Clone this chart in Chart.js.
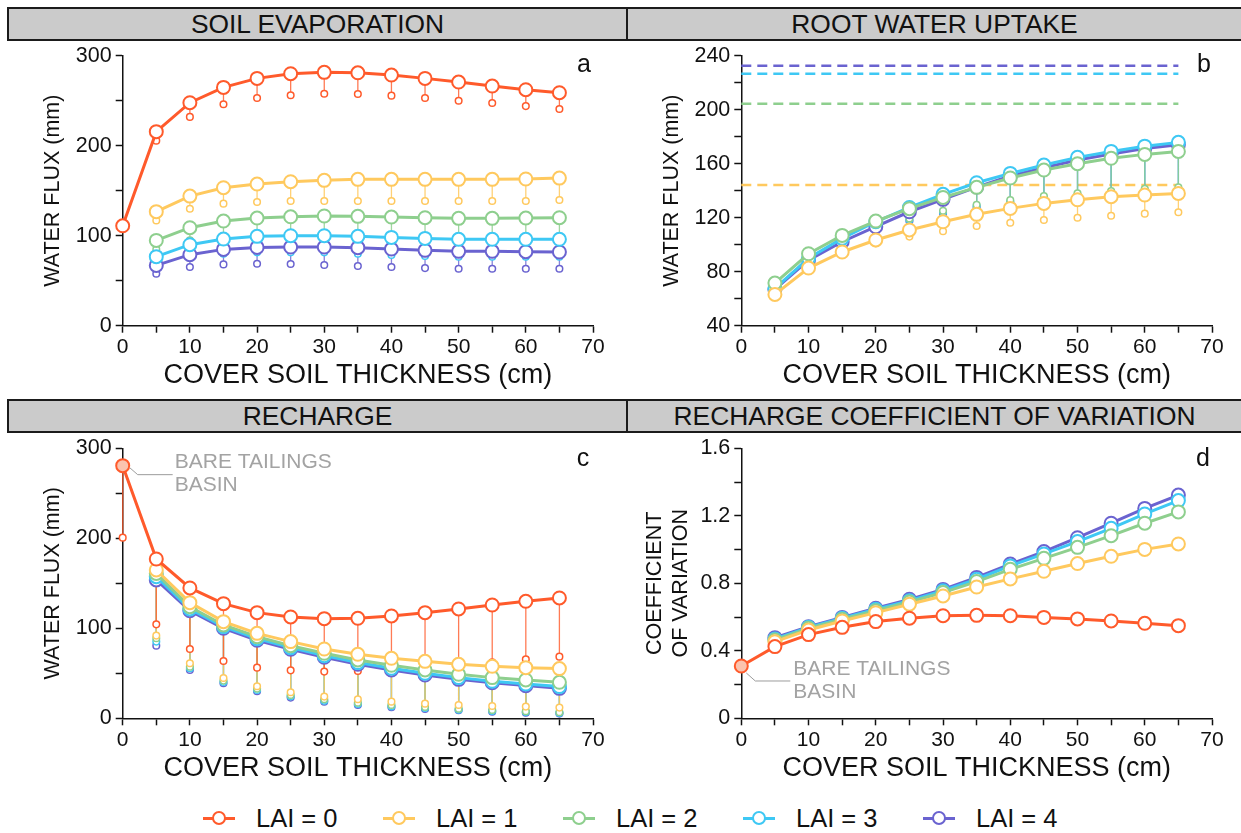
<!DOCTYPE html>
<html><head><meta charset="utf-8">
<script src="https://cdn.jsdelivr.net/npm/chart.js@4.4.1/dist/chart.umd.min.js"></script>
<style>
html,body{margin:0;padding:0;background:#fff}
#page{position:relative;width:1241px;height:833px;overflow:hidden;font-family:"Liberation Sans",Arial,Helvetica,sans-serif;color:#111}
.band{position:absolute;left:7px;width:1250px;height:34px;box-sizing:border-box;border:2px solid #1b1b1b;background:#cbcbcb}
.divider{position:absolute;left:626px;width:2px;height:34px;background:#1b1b1b}
.htitle{position:absolute;height:34px;line-height:34px;text-align:center;font-size:26.4px;color:#111;white-space:nowrap}
canvas{position:absolute}
.letter{position:absolute;font-size:25px;line-height:25px;width:30px;text-align:center;color:#111}
.leg{position:absolute;top:803px;height:30px;width:170px}
.legline{position:absolute;top:13.5px;left:0;width:32px;height:3px}
.legdot{position:absolute;top:8px;left:9px;width:10px;height:10px;border-radius:50%;background:#fff;border:2px solid}
.legtext{position:absolute;left:53px;top:0;font-size:25.5px;line-height:30px;white-space:nowrap;color:#111}
</style></head><body>
<div id="page">
 <div class="band" style="top:7px"></div><div class="divider" style="top:7px"></div>
 <div class="htitle" style="top:7px;left:9px;width:617px">SOIL EVAPORATION</div>
 <div class="htitle" style="top:7px;left:628px;width:613px">ROOT WATER UPTAKE</div>
 <div class="band" style="top:399px"></div><div class="divider" style="top:399px"></div>
 <div class="htitle" style="top:399px;left:9px;width:617px">RECHARGE</div>
 <div class="htitle" style="top:399px;left:628px;width:613px">RECHARGE COEFFICIENT OF VARIATION</div>
 <canvas id="ca" width="620" height="356" style="left:0;top:38px"></canvas>
 <canvas id="cb" width="621" height="356" style="left:620px;top:38px"></canvas>
 <canvas id="cc" width="620" height="356" style="left:0;top:431px"></canvas>
 <canvas id="cd" width="621" height="356" style="left:620px;top:431px"></canvas>
 <div class="letter" style="left:569px;top:51px">a</div>
 <div class="letter" style="left:1189px;top:51px">b</div>
 <div class="letter" style="left:568px;top:445px">c</div>
 <div class="letter" style="left:1188px;top:445px">d</div>
 <div id="legend"></div>
</div>
<script>
// ---------------- DATA ----------------
const thicknessAll = [0, 5, 10, 15, 20, 25, 30, 35, 40, 45, 50, 55, 60, 65];
const thicknessVeg = [5, 10, 15, 20, 25, 30, 35, 40, 45, 50, 55, 60, 65];
const laiLabels = ['LAI = 0', 'LAI = 1', 'LAI = 2', 'LAI = 3', 'LAI = 4'];
const bareLabel = ['BARE TAILINGS', 'BASIN'];

// (a) soil evaporation (mm): mean and lower value
const evap0    = [111, 215.6, 247.8, 264.8, 274.8, 280, 281.5, 281, 278.5, 274.8, 270.7, 266.3, 262.2, 258.9];
const evap0Low = [null, 205.6, 232, 246, 253, 256, 257.8, 257.4, 255.6, 253, 250, 247.4, 244, 240.7];
const evap1    = [null, 126.7, 144, 153.3, 157.4, 160, 161.5, 162.6, 162.6, 162.6, 162.6, 162.6, 163, 164];
const evap1Low = [null, 117, 130, 135.6, 137.4, 138.5, 138.5, 138.5, 138.5, 138.5, 138.5, 138.5, 138.5, 139.6];
const evap2    = [null, 94.8, 108.9, 116.3, 119.6, 121, 121.9, 121.5, 120.7, 120, 119.3, 119.3, 119.6, 120];
const evap2Low = [null, 85, 94.8, 98.9, 100.4, 100.4, 100.4, 100.4, 99.5, 99, 98.5, 98.5, 98.2, 98];
const evap3    = [null, 76.7, 90, 96.3, 99.3, 100, 100, 99.3, 98.1, 97, 96, 96, 96, 96];
const evap3Low = [null, 67, 76, 80, 81.5, 81.5, 81.5, 80, 78.5, 77.4, 76.7, 76.7, 76.7, 76.7];
const evap4    = [null, 67, 78.9, 84.8, 87, 87.4, 87.4, 86.7, 85.2, 83.7, 82.6, 82.6, 82.2, 81.9];
const evap4Low = [null, 57.8, 65.2, 68.1, 68.9, 68.5, 67.4, 66.3, 65.2, 64, 63.3, 63.3, 63.3, 63.3];

// (b) root water uptake (mm), thicknessVeg
const uptake1    = [63.2, 82.7, 94.6, 103.5, 110.9, 117, 122.5, 126.9, 130.6, 133.3, 135.6, 136.8, 138];
const uptake1Low = [62.2, 81.7, 93.3, 101, 106, 110, 113.8, 116.3, 118.3, 120, 121.5, 123, 124];
const uptake2    = [71.6, 93.3, 106.9, 117.5, 126.7, 135, 142.5, 149.4, 155.3, 160, 164, 166.9, 169.1];
const uptake2Low = [71, 91.6, 104, 112.6, 119.5, 125.2, 129.6, 133, 136, 138, 139.8, 141.5, 142.5];
const uptake3    = [67.7, 89.9, 104.7, 117, 127.6, 137.3, 145.9, 152.8, 159, 164.7, 169.1, 173, 175.8];
const uptake3Low = [67, 88, 102, 111, 118.5, 124, 128.6, 132, 135, 137, 139, 140.6, 141.5];
const uptake4    = [66.9, 88.6, 102.2, 113.3, 124.4, 133.6, 142.7, 150.9, 157, 162.7, 167.2, 171.3, 174];
const uptake4Low = [66, 87, 100.5, 110, 117.5, 123, 127.6, 131, 134, 136, 138, 139.7, 140.6];
const potentialUptake = [null, 144.2, 204.4, 226.7, 232.6];

// (c) recharge (mm)
const rech0    = [280.7, 177, 144.8, 127.4, 117.4, 112.6, 110.7, 111.1, 113.7, 117.4, 121.5, 125.9, 130, 133.7];
const rech0Low = [200.7, 104.4, 77, 63.7, 56.3, 53.3, 51.9, 52.6, 54.4, 56.3, 59.3, 62.2, 65.6, 68.5];
const rech1    = [null, 164.8, 128.5, 107.4, 94.4, 85.2, 77, 71.1, 66.7, 63.3, 60, 57.8, 56.3, 55.2];
const rech1Low = [null, 91.9, 61.1, 44.8, 35.6, 28.9, 24.1, 21.1, 18.5, 16.3, 14.8, 13.7, 13, 11.9];
const rech2    = [null, 161, 124, 103.7, 90.7, 80.7, 72.2, 64.8, 58.9, 53.7, 48.9, 45.2, 42.6, 40];
const rech2Low = [null, 88.9, 57.4, 41.9, 33, 25.9, 21.1, 17.4, 14.8, 12.6, 10.7, 9.3, 7.8, 6.7];
const rech3    = [null, 157.4, 121.5, 101.9, 88.5, 78.5, 69.6, 61.9, 55.6, 50, 45.2, 41.1, 38.1, 35.2];
const rech3Low = [null, 85.2, 55.6, 40.4, 31.5, 24.4, 19.6, 15.9, 13.3, 11.5, 9.6, 8.1, 7, 5.9];
const rech4    = [null, 153.7, 119.6, 100, 86.7, 76.7, 67.8, 60, 53.7, 48.1, 43.3, 39.6, 36.3, 33.3];
const rech4Low = [null, 80.7, 53.7, 38.9, 30, 23, 18.5, 14.8, 12.2, 10.4, 8.9, 7.4, 6.3, 5.2];

// (d) recharge coefficient of variation
const cv0 = [0.31, 0.425, 0.496, 0.539, 0.573, 0.593, 0.608, 0.610, 0.608, 0.598, 0.589, 0.577, 0.563, 0.549];
const cv1 = [null, 0.454, 0.523, 0.577, 0.626, 0.676, 0.725, 0.778, 0.826, 0.871, 0.917, 0.960, 1.001, 1.033];
const cv2 = [null, 0.464, 0.533, 0.587, 0.638, 0.689, 0.745, 0.810, 0.883, 0.948, 1.013, 1.082, 1.156, 1.223];
const cv3 = [null, 0.470, 0.539, 0.593, 0.646, 0.697, 0.756, 0.824, 0.903, 0.974, 1.047, 1.126, 1.211, 1.290];
const cv4 = [null, 0.478, 0.543, 0.598, 0.652, 0.705, 0.764, 0.835, 0.914, 0.988, 1.070, 1.156, 1.244, 1.323];

// ---------------- STYLE ----------------
const FONT = '"Liberation Sans", Arial, Helvetica, sans-serif';
const COLORS = ['#ff5a2b', '#ffc95e', '#8ecf8e', '#3ec8f4', '#6a63d0'];
const STEM_COLORS = ['rgba(255,90,43,0.8)', 'rgba(255,201,94,0.85)', 'rgba(142,207,142,0.85)', 'rgba(62,200,244,0.8)', 'rgba(106,99,208,0.8)'];
const BARE_FILL = '#fbc3ae';
const INK = '#111';
Chart.defaults.font.family = FONT;

function pts(xs, ys) { const o = []; xs.forEach((x, i) => { if (ys[i] != null) o.push({x: x, y: ys[i]}); }); return o; }
function stems(xs, hi, lo) { const o = []; xs.forEach((x, i) => { if (hi[i] != null && lo[i] != null) { o.push({x: x, y: hi[i]}, {x: x, y: lo[i]}, {x: x, y: null}); } }); return o; }
function isMult(v, m) { const r = v / m; return Math.abs(r - Math.round(r)) < 1e-6; }

const bareNotePlugin = {
  id: 'bareNote',
  afterDatasetsDraw(chart, args, opts) {
    if (!opts || opts.value == null) return;
    const ctx = chart.ctx;
    const px = chart.scales.x.getPixelForValue(0), py = chart.scales.y.getPixelForValue(opts.value);
    ctx.save();
    ctx.strokeStyle = '#9c9c9c'; ctx.lineWidth = 1;
    ctx.beginPath();
    opts.leader.forEach((p, i) => { if (i === 0) ctx.moveTo(px + p[0], py + p[1]); else ctx.lineTo(px + p[0], py + p[1]); });
    ctx.stroke();
    ctx.fillStyle = '#a3a3a3'; ctx.font = '21px ' + FONT; ctx.textBaseline = 'middle'; ctx.textAlign = 'left';
    bareLabel.forEach((t, i) => ctx.fillText(t, px + 52, py + opts.textDy + i * 23));
    ctx.restore();
  }
};

function makeChart(id, c) {
  const datasets = [];
  c.mains.forEach((m, i) => {
    if (!m) return;
    datasets.push({type: 'line', label: laiLabels[i], data: pts(c.xs, m), order: i,
      borderColor: COLORS[i], borderWidth: 3, tension: 0,
      pointRadius: 6.5, pointHoverRadius: 6.5, pointBorderWidth: 2, pointBorderColor: COLORS[i],
      pointBackgroundColor: ctx => (c.bareFill && ctx.raw && ctx.raw.x === 0) ? BARE_FILL : '#fff', clip: false});
  });
  if (c.lows) c.lows.forEach((l, i) => {
    if (!l) return;
    datasets.push({type: 'line', data: pts(c.xs, l), order: 10 + i, showLine: false,
      pointRadius: 3.3, pointHoverRadius: 3.3, pointBorderWidth: 1.5, pointBorderColor: COLORS[i], pointBackgroundColor: '#fff', clip: false});
    datasets.push({type: 'line', data: stems(c.xs, c.mains[i], l), order: 20 + i, borderColor: STEM_COLORS[i],
      borderWidth: 1.3, pointRadius: 0, spanGaps: false, clip: false});
  });
  (c.extra || []).forEach(d => datasets.push(d));
  const cfg = {
    type: 'line',
    data: {datasets: datasets},
    options: {
      responsive: false, animation: false, devicePixelRatio: 1, events: [],
      layout: {padding: {top: c.padTop, right: c.padRight, bottom: 0, left: 0}},
      plugins: {legend: {display: false}, tooltip: {enabled: false}, bareNote: c.note || {}},
      scales: {
        x: {type: 'linear', min: 0, max: 70,
          afterFit: s => { s.height = c.xHeight; },
          ticks: {stepSize: 5, autoSkip: false, maxRotation: 0, callback: v => isMult(v, 10) ? String(v) : '', font: {size: 21}, color: INK, padding: 2},
          grid: {drawOnChartArea: false, tickLength: 7, tickColor: INK, tickWidth: 1.5},
          border: {color: INK, width: 1.5},
          title: {display: true, text: 'COVER SOIL THICKNESS (cm)', font: {size: 27}, color: INK, padding: {top: 0, bottom: 1.8}}},
        y: {type: 'linear', min: c.yMin, max: c.yMax,
          afterFit: s => { s.width = c.yWidth; },
          ticks: {stepSize: c.yStep, autoSkip: false, callback: v => isMult(v, c.yMajor) ? c.yFmt(v) : '', font: {size: 21.5}, color: INK, padding: 4},
          grid: {drawOnChartArea: false, tickLength: 7, tickColor: INK, tickWidth: 1.5},
          border: {color: INK, width: 1.5},
          title: {display: true, text: c.yTitle, font: {size: 21.5}, color: INK, padding: {top: c.yTitlePad, bottom: 0}}}
      }
    },
    plugins: c.note ? [bareNotePlugin] : []
  };
  return new Chart(document.getElementById(id), cfg);
}

const intFmt = v => String(Math.round(v));
const cvFmt = v => (Math.abs(v) < 1e-9 ? '0' : v.toFixed(1));

makeChart('ca', {xs: thicknessAll, mains: [evap0, evap1, evap2, evap3, evap4], lows: [evap0Low, evap1Low, evap2Low, evap3Low, evap4Low],
  yMin: 0, yMax: 300, yStep: 50, yMajor: 100, yFmt: intFmt, yTitle: 'WATER FLUX (mm)', yTitlePad: 40,
  yWidth: 122.7, padTop: 17.7, padRight: 27, xHeight: 68.3, bareFill: false});

const potentialLines = [];
potentialUptake.forEach((v, i) => {
  if (v == null) return;
  potentialLines.push({type: 'line', data: [{x: 0, y: v}, {x: thicknessVeg[thicknessVeg.length - 1], y: v}], order: 30,
    borderColor: COLORS[i], borderWidth: 2.5, borderDash: [10, 6], pointRadius: 0, clip: false});
});
makeChart('cb', {xs: thicknessVeg, mains: [null, uptake1, uptake2, uptake3, uptake4], lows: [null, uptake1Low, uptake2Low, uptake3Low, uptake4Low],
  yMin: 40, yMax: 240, yStep: 20, yMajor: 40, yFmt: intFmt, yTitle: 'WATER FLUX (mm)', yTitlePad: 39,
  yWidth: 121.3, padTop: 17.7, padRight: 29, xHeight: 68.3, bareFill: false, extra: potentialLines});

makeChart('cc', {xs: thicknessAll, mains: [rech0, rech1, rech2, rech3, rech4], lows: [rech0Low, rech1Low, rech2Low, rech3Low, rech4Low],
  yMin: 0, yMax: 300, yStep: 50, yMajor: 100, yFmt: intFmt, yTitle: 'WATER FLUX (mm)', yTitlePad: 40,
  yWidth: 122.7, padTop: 17.3, padRight: 27, xHeight: 68.7, bareFill: true,
  note: {value: rech0[0], leader: [[7, 2], [15, 9], [50, 9]], textDy: -3}});

makeChart('cd', {xs: thicknessAll, mains: [cv0, cv1, cv2, cv3, cv4], lows: null,
  yMin: 0, yMax: 1.6, yStep: 0.2, yMajor: 0.4, yFmt: cvFmt, yTitle: ['COEFFICIENT', 'OF VARIATION'], yTitlePad: 22,
  yWidth: 121.3, padTop: 17.3, padRight: 29, xHeight: 68.7, bareFill: true,
  note: {value: cv0[0], leader: [[5, 7], [14, 15], [49, 15]], textDy: 3}});

// legend
const legend = document.getElementById('legend');
laiLabels.forEach((lab, i) => {
  const d = document.createElement('div');
  d.className = 'leg'; d.style.left = (203 + i * 180) + 'px';
  d.innerHTML = '<div class="legline" style="background:' + COLORS[i] + '"></div>' +
    '<div class="legdot" style="border-color:' + COLORS[i] + '"></div>' +
    '<div class="legtext">' + lab + '</div>';
  legend.appendChild(d);
});
</script>
</body></html>
